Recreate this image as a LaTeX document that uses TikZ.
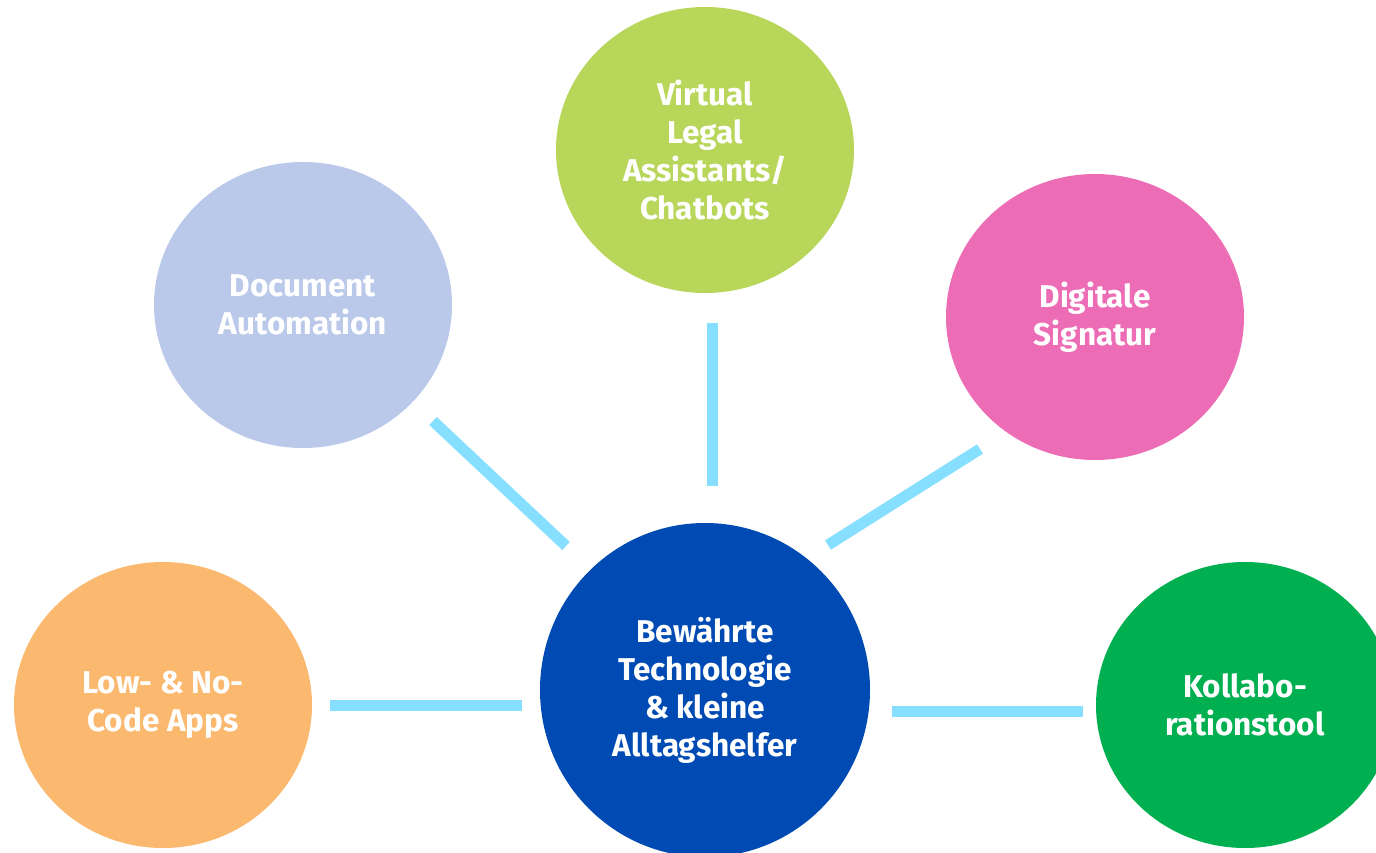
\documentclass[tikz,border=0pt]{standalone}
\usepackage{fontspec}
\setmainfont{Fira Sans}
\usetikzlibrary{shapes.geometric}
\definecolor{cDoc}{HTML}{BAC8EA}
\definecolor{cVir}{HTML}{B7D65A}
\definecolor{cSig}{HTML}{EC6CB5}
\definecolor{cLow}{HTML}{FBB86F}
\definecolor{cKol}{HTML}{00AF50}
\definecolor{cCen}{HTML}{004BB3}
\definecolor{cLine}{HTML}{87DFFF}
\tikzset{
  bubble/.style={ellipse, minimum width=298pt, minimum height=286pt, inner sep=0pt,
    text=white, align=center, font=\fontsize{31.5}{38}\selectfont\bfseries},
  link/.style={draw=cLine, line width=11pt}
}
\begin{document}
\begin{tikzpicture}[x=1pt,y=-1pt]
\useasboundingbox (0,0) rectangle (1376,853);
\clip (0,0) rectangle (1376,853);
\fill[white] (0,0) rectangle (1376,853);
\node[bubble, fill=cDoc] (doc) at (303,305) {Document\\Automation};
\node[bubble, fill=cVir] (vir) at (705,150) {Virtual\\Legal\\Assistants/\\Chatbots};
\node[bubble, fill=cSig] (sig) at (1095,317) {Digitale\\Signatur};
\node[bubble, fill=cLow] (low) at (163,705) {Low- \& No-\\Code Apps};
\node[bubble, fill=cKol] (kol) at (1245,705) {Kollabo-\\rationstool};
\node[bubble, fill=cCen, minimum width=330pt, minimum height=334pt] (cen) at (705,690) {Bewährte\\Technologie\\\& kleine\\Alltagshelfer};
\coordinate (d1) at (433,421); \coordinate (d2) at (566,546);
\coordinate (v1) at (712,323); \coordinate (v2) at (712,486);
\coordinate (s1) at (980,449); \coordinate (s2) at (828,545);
\coordinate (l1) at (330,705); \coordinate (l2) at (522,705);
\coordinate (k1) at (892,711); \coordinate (k2) at (1083,711);
\draw[link] (d1) -- (d2);
\draw[link] (v1) -- (v2);
\draw[link] (s1) -- (s2);
\draw[link] (l1) -- (l2);
\draw[link] (k1) -- (k2);
\end{tikzpicture}
\end{document}
